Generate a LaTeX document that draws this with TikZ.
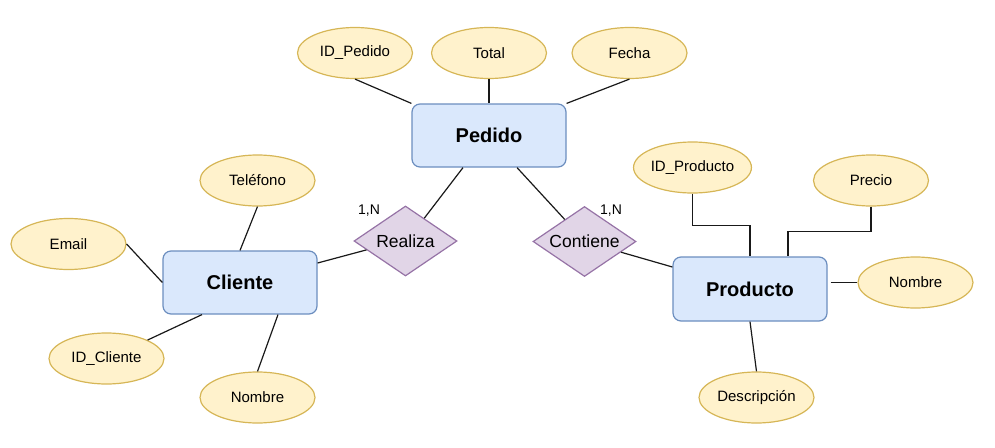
\documentclass[tikz,border=0pt]{standalone}
\usepackage{fontspec}
\setmainfont{Liberation Sans}
\usetikzlibrary{shapes.geometric,calc}
\definecolor{entfill}{HTML}{DAE8FC}
\definecolor{entdraw}{HTML}{6C8EBF}
\definecolor{attfill}{HTML}{FFF2CC}
\definecolor{attdraw}{HTML}{D6B656}
\definecolor{relfill}{HTML}{E1D5E7}
\definecolor{reldraw}{HTML}{9673A6}
\tikzset{
  entity/.style={draw=entdraw, fill=entfill, line width=1.2pt, rounded corners=8pt,
    minimum width=154pt, minimum height=63pt, inner sep=0pt,
    font=\fontsize{20}{24}\selectfont\bfseries},
  attr/.style={ellipse, draw=attdraw, fill=attfill, line width=1.2pt,
    minimum width=115pt, minimum height=51pt, inner sep=0pt,
    font=\fontsize{15}{18}\selectfont},
  rel/.style={diamond, draw=reldraw, fill=relfill, line width=1.2pt,
    minimum width=103pt, minimum height=70pt, inner sep=0pt, aspect=1.47,
    font=\fontsize{17.5}{21}\selectfont},
  card/.style={inner sep=0pt, font=\fontsize{14}{17}\selectfont},
  conn/.style={draw=black!90, line width=1.2pt}
}
\begin{document}
\begin{tikzpicture}[x=1pt,y=-1pt]
\useasboundingbox (0,0) rectangle (995,447);
% entities
\node[entity] (pedido) at (489,135.5) {Pedido};
\node[entity] (cliente) at (240,282.5) {Cliente};
\node[entity, minimum height=64pt] (prod) at (750,289) {Producto};
% relations
\node[rel] (realiza) at (405.5,241) {Realiza};
\node[rel] (contiene) at (584.5,241.5) {Contiene};
% attributes Pedido
\node[attr] (idp) at (355,53) {ID\_Pedido};
\node[attr] (total) at (489,53) {Total};
\node[attr] (fecha) at (629.5,53) {Fecha};
% attributes Cliente
\node[attr] (tel) at (257.5,180.5) {Teléfono};
\node[attr] (email) at (68.5,244) {Email};
\node[attr] (idc) at (106.5,358.5) {ID\_Cliente};
\node[attr] (nomc) at (257.5,397.5) {Nombre};
% attributes Producto
\node[attr] (idpr) at (692.5,167.5) {ID\_Producto};
\node[attr] (precio) at (871,180.5) {Precio};
\node[attr] (nomp) at (915.5,282.5) {Nombre};
\node[attr] (desc) at (756.5,397.5) {Descripción};
% cardinalities
\node[card] (c1) at (369,211) {1,N};
\node[card] (c2) at (611,211) {1,N};
% connectors
\path[conn] (idp.south) -- (pedido.north west);
\path[conn] (total.south) -- (pedido.north);
\path[conn] (fecha.south) -- (pedido.north east);
\path[conn] ($(pedido.south)+(-26,0)$) -- ($(realiza.north)!0.36!(realiza.east)$);
\path[conn] ($(pedido.south)+(28,0)$) -- ($(contiene.north)!0.38!(contiene.west)$);
\path[conn] ($(cliente.east)+(0,-19.5)$) -- ($(realiza.west)!0.25!(realiza.south)$);
\path[conn] ($(contiene.east)!0.3!(contiene.south)$) -- ($(prod.west)+(0,-22)$);
\path[conn] (tel.south) -- (cliente.north);
\path[conn] (email.east) -- (cliente.west);
\path[conn] (idc.north east) -- ($(cliente.south)+(-38,0)$);
\path[conn] (nomc.north) -- ($(cliente.south)+(38,0)$);
\path[conn] (idpr.south) -- ++(0,32) -| (prod.north);
\path[conn] (precio.south) -- ++(0,25) -| ($(prod.north)+(38,0)$);
\path[conn] ($(prod.east |- nomp.west)+(3,0)$) -- (nomp.west);
\path[conn] (prod.south) -- (desc.north);
\end{tikzpicture}
\end{document}
